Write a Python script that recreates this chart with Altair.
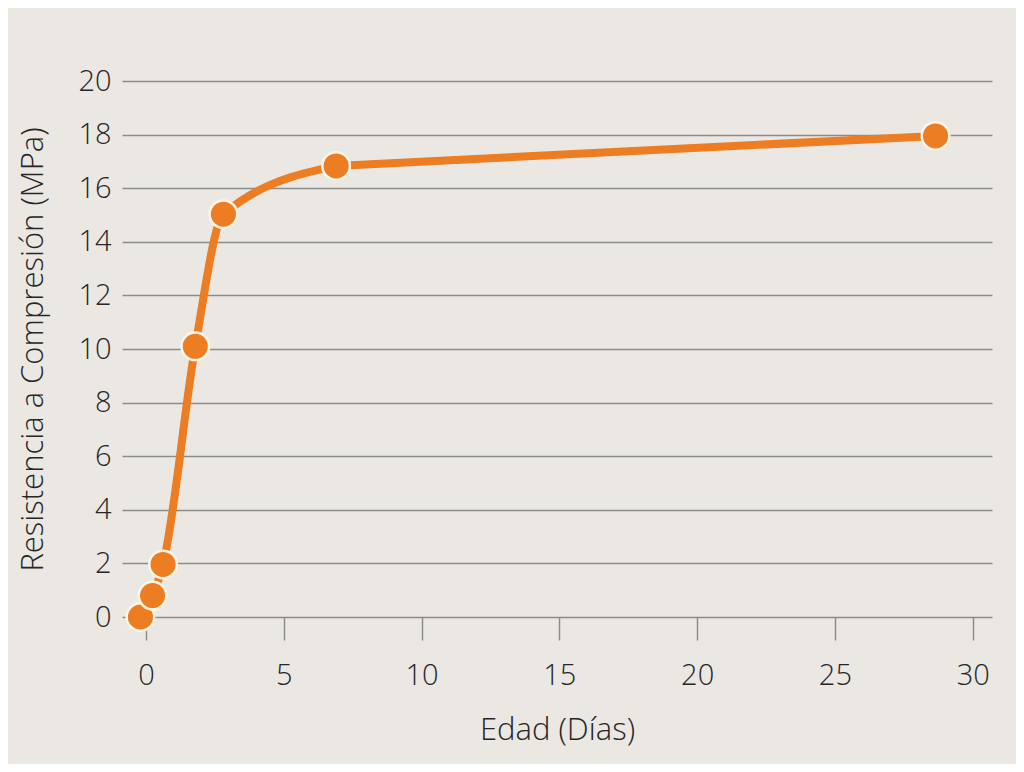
import altair as alt
import pandas as pd

edad = [-0.2, 0.24, 0.62, 1.79, 2.81, 6.9, 28.65]
resistencia = [0.0, 0.8, 1.96, 10.1, 15.03, 16.83, 17.95]
x_ticks = [0, 5, 10, 15, 20, 25, 30]
y_ticks = [0, 2, 4, 6, 8, 10, 12, 14, 16, 18, 20]

df = pd.DataFrame({"edad": edad, "res": resistencia})
df_curve = df.iloc[:6]   # curved early part
df_tail = df.iloc[5:]    # straight final segment

BG = "#ebe7e3"
ORANGE = "#ec7d22"
GRID = "#8c8c8c"
TXT = "#262626"
FONT = "Open Sans"

x = alt.X("edad:Q", title="Edad (Días)",
          scale=alt.Scale(domain=[-0.87, 30.7], nice=False, zero=False),
          axis=alt.Axis(values=x_ticks, grid=False, domain=False, ticks=True,
                        tickSize=23, tickColor=GRID, tickWidth=1.5,
                        labelFontSize=29, labelFont=FONT, labelFontWeight=300,
                        labelColor=TXT, labelPadding=21,
                        titleFontSize=31, titleFont=FONT, titleFontWeight=300,
                        titleColor=TXT, titlePadding=25))
y = alt.Y("res:Q", title="Resistencia a Compresión (MPa)",
          scale=alt.Scale(domain=[0, 20], nice=False),
          axis=alt.Axis(values=y_ticks, grid=True, gridColor=GRID, gridWidth=1.5,
                        domain=False, ticks=False,
                        labelFontSize=29, labelFont=FONT, labelFontWeight=300,
                        labelColor=TXT, labelPadding=11,
                        titleFontSize=31, titleFont=FONT, titleFontWeight=300,
                        titleColor=TXT, titlePadding=28))

curve = alt.Chart(df_curve).mark_line(color=ORANGE, strokeWidth=8, interpolate="monotone").encode(x=x, y=y)
tail = alt.Chart(df_tail).mark_line(color=ORANGE, strokeWidth=8).encode(x=x, y=y)
pts = alt.Chart(df).mark_point(filled=True, fill=ORANGE, opacity=1, size=760,
                               stroke="#fff4e6", strokeWidth=2.5, strokeOpacity=1).encode(x=x, y=y)

chart = alt.layer(curve, tail, pts).properties(
    width=870, height=536,
    autosize=alt.AutoSizeParams(type="none"),
    padding={"left": 114, "top": 73, "right": 24, "bottom": 147},
    background=BG,
).configure_view(stroke=None)

chart.save("out.html", embed_options={"renderer": "svg", "actions": False})
